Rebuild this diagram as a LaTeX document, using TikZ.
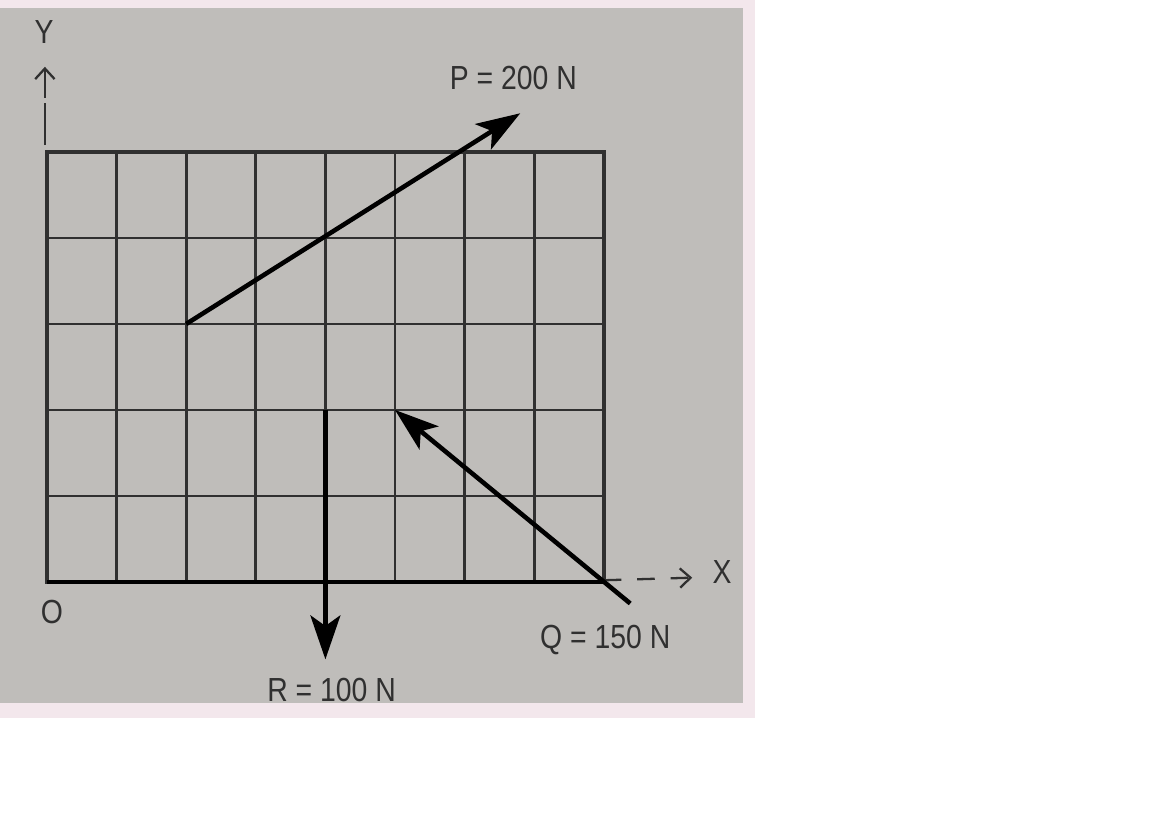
\documentclass[tikz,border=0pt]{standalone}
\usepackage{fontspec}
\setmainfont{Liberation Sans}
\usetikzlibrary{arrows.meta}
\definecolor{paper}{RGB}{191,189,186}
\definecolor{frame}{RGB}{243,231,236}
\definecolor{ink}{RGB}{48,48,48}
\tikzset{
  gridline/.style={ink, line width=1.6pt},
  force/.style={black, line width=2.6pt, -{Stealth[length=25pt,width=17pt,inset=6pt]}},
  axisline/.style={ink, line width=1.3pt, -{Straight Barb[length=6pt,width=11pt]}},
  lbl/.style={text=ink, font=\fontsize{19}{19}\selectfont, xscale=0.85, inner sep=0pt},
}
\begin{document}
\begin{tikzpicture}[x=1.392cm,y=1.72cm]
\useasboundingbox (-0.675,-2.698) rectangle (16.106,6.767);
\fill[white] (-0.675,-2.698) rectangle (16.106,6.767);
\fill[frame] (-0.675,-1.581) rectangle (10.17,6.767);
\fill[paper] (-0.675,-1.407) rectangle (10.0,6.674);
% grid
\foreach \i in {1,...,7} \draw[gridline] (\i,0) -- (\i,5);
\foreach \j in {1,...,4} \draw[gridline] (0,\j) -- (8,\j);
\draw[gridline, line width=2.2pt] (0,0) rectangle (8,5);
\draw[black, line width=2.8pt] (0,0) -- (8,0);
% points
\coordinate (O) at (0,0);
\coordinate (A) at (2,3);
\coordinate (B) at (6.8,5.45);
\coordinate (C) at (8.38,-0.25);
\coordinate (D) at (5,2);
\coordinate (E) at (4,2);
\coordinate (F) at (4,-0.9);
\coordinate (Yb) at (-0.03,5.08);
\coordinate (Yt) at (-0.03,5.99);
\coordinate (Xb) at (8,0.02);
\coordinate (Xt) at (9.27,0.05);
% axes
\draw[axisline, dash pattern=on 24pt off 3pt on 40pt] (Yb) -- (Yt);
\draw[axisline, dash pattern=on 10pt off 9pt] (Xb) -- (Xt);
\node[lbl] (ylab) at (-0.04,6.40) {Y};
\node[lbl] (xlab) at (9.70,0.12) {X};
\node[lbl] (olab) at (0.07,-0.35) {O};
% forces
\draw[force] (A) -- (B);
\draw[force] (C) -- (D);
\draw[force] (E) -- (F);
\node[lbl] (plab) at (6.70,5.86) {P = 200 N};
\node[lbl] (qlab) at (8.02,-0.67) {Q = 150 N};
\node[lbl] (rlab) at (4.09,-1.26) {R = 100 N};
\end{tikzpicture}
\end{document}
